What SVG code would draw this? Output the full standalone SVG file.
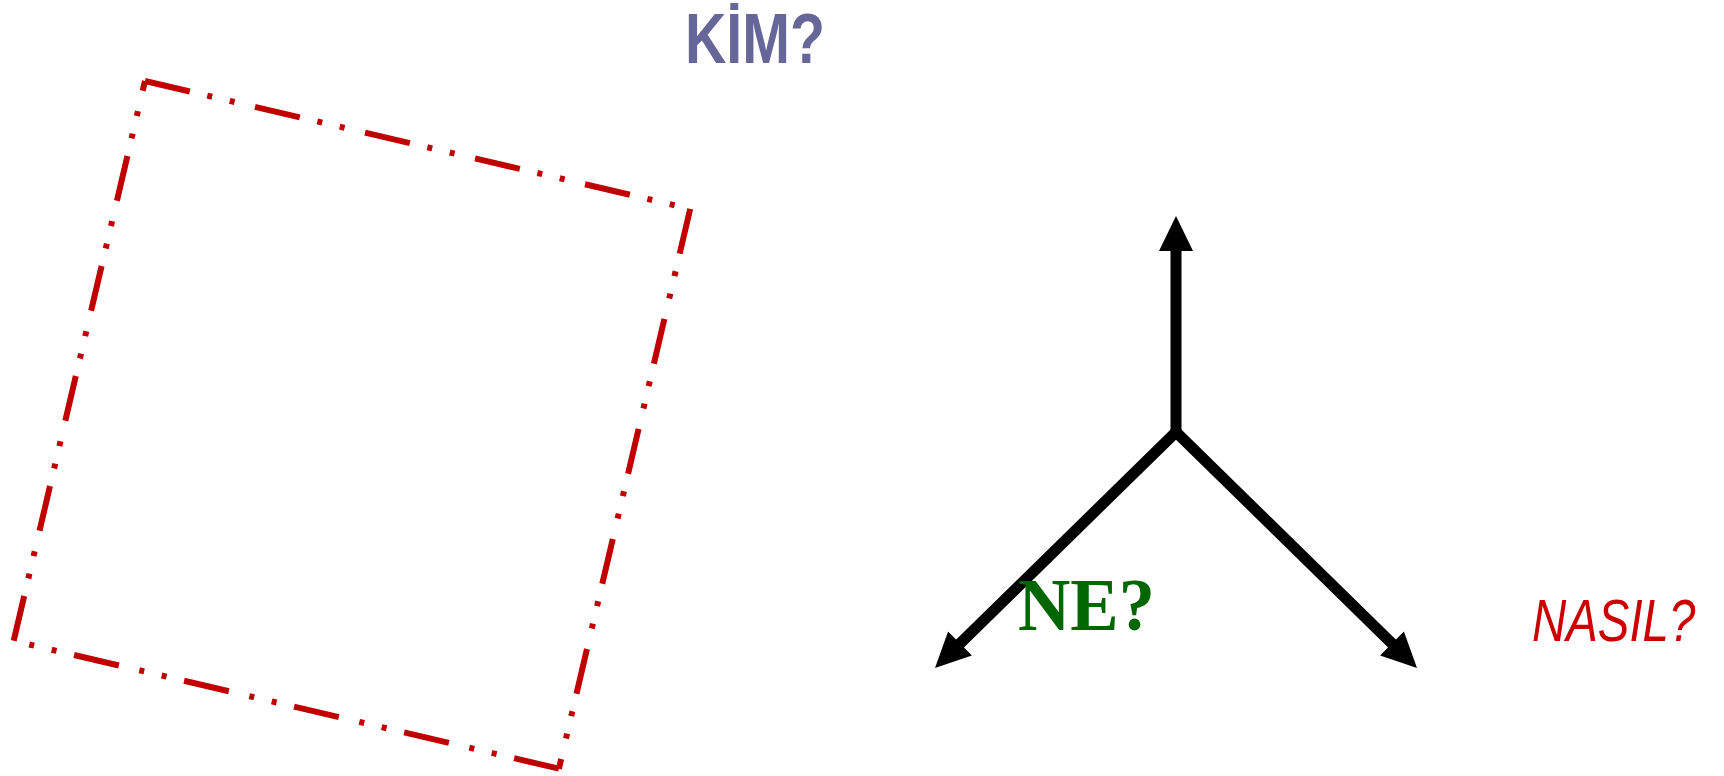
<svg xmlns="http://www.w3.org/2000/svg" width="1724" height="776" viewBox="0 0 1724 776">
<style>
.frame{fill:none;stroke:#C00000;stroke-width:6;stroke-dasharray:46 18 5 18 5 21;stroke-linecap:butt}
.arr{fill:none;stroke:#000;stroke-width:11;stroke-linejoin:miter;stroke-linecap:butt}
.head{fill:#000;stroke:none}
.t1{font-family:"Liberation Sans",Arial,sans-serif;font-weight:bold;font-size:70px;fill:#666699}
.t2{font-family:"Liberation Serif","Times New Roman",serif;font-weight:bold;font-size:73px;fill:#006600}
.t3{font-family:"Liberation Sans",Arial,sans-serif;font-style:italic;font-size:60px;fill:#CC0000}
</style>
<g id="frame">
<line class="frame" x1="145" y1="81" x2="690.2" y2="208.9"/>
<line class="frame" x1="690.2" y1="208.9" x2="558.9" y2="768.7"/>
<line class="frame" x1="558.9" y1="768.7" x2="13.7" y2="640.8"/>
<line class="frame" x1="13.7" y1="640.8" x2="145" y2="81"/>
</g>
<g id="connectors">
<path class="arr" d="M1176,437 L1176,248"/>
<path class="arr" d="M958,645.5 L1176,432 L1394,645.5"/>
<polygon class="head" points="1176,216 1193,251 1159,251"/>
<polygon class="head" points="935,668 948.1,631.4 971.9,655.6"/>
<polygon class="head" points="1417,668 1380.1,655.6 1403.9,631.4"/>
</g>
<g id="kim"><text class="t1" x="685" y="63" textLength="140" lengthAdjust="spacingAndGlyphs">KİM?</text></g>
<g id="ne"><text class="t2" x="1018" y="630" textLength="137" lengthAdjust="spacingAndGlyphs">NE?</text></g>
<g id="nasil"><text class="t3" transform="translate(1532,641) scale(0.79,1)" x="0" y="0">NASIL?</text></g>
</svg>
